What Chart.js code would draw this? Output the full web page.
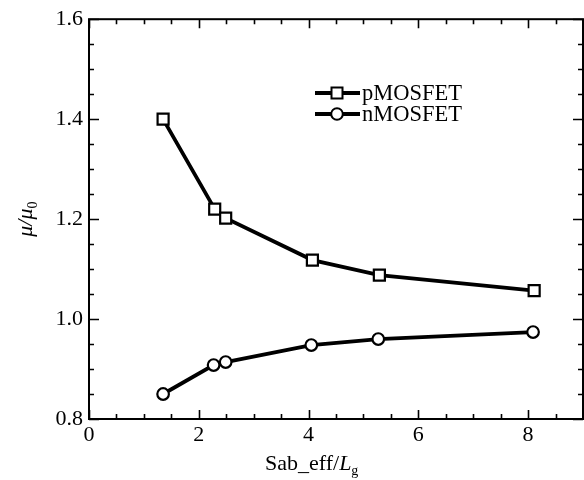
<!DOCTYPE html>
<html>
<head>
<meta charset="utf-8">
<script src="https://cdn.jsdelivr.net/npm/chart.js@4.4.1/dist/chart.umd.min.js"></script>
<style>
html,body{margin:0;padding:0;background:#fff;}
#wrap{width:584px;height:480px;position:relative;}
</style>
</head>
<body>
<div id="wrap"><canvas id="c" width="584" height="480"></canvas></div>
<script>
// ---- data ----
const seriesNames = ['pMOSFET', 'nMOSFET'];
const xP = [1.35, 2.29, 2.49, 4.07, 5.29, 8.11];
const pMOS = [1.400, 1.220, 1.202, 1.118, 1.088, 1.057];
const xN = [1.35, 2.27, 2.49, 4.05, 5.27, 8.09];
const nMOS = [0.850, 0.908, 0.914, 0.948, 0.960, 0.974];
const xTicks = [0, 2, 4, 6, 8];
const yTicks = [0.8, 1.0, 1.2, 1.4, 1.6];
const xMinorStep = 0.5;
const yMinorStep = 0.05;

const FONT = "'Liberation Serif','Times New Roman',serif";
const FS = 22;

function pts(xs, ys){ return xs.map((x,i)=>({x:x, y:ys[i]})); }

const framePlugin = {
  id: 'frame',
  beforeDatasetsDraw(chart){
    const {ctx, chartArea:a, scales:{x, y}} = chart;
    ctx.save();
    ctx.strokeStyle = '#000';
    ctx.lineWidth = 2;
    ctx.strokeRect(a.left, a.top, a.right - a.left, a.bottom - a.top);
    ctx.lineWidth = 1.6;
    ctx.beginPath();
    for (let v = x.min; v <= x.max + 1e-9; v += xMinorStep) {
      const major = xTicks.some(t => Math.abs(t - v) < 1e-6);
      const L = major ? 9 : 5;
      const px = Math.round(x.getPixelForValue(v)) + 0.5;
      ctx.moveTo(px, a.bottom); ctx.lineTo(px, a.bottom - L);
      ctx.moveTo(px, a.top); ctx.lineTo(px, a.top + L);
    }
    for (let v = y.min; v <= y.max + 1e-9; v += yMinorStep) {
      const major = yTicks.some(t => Math.abs(t - v) < 1e-6);
      const L = major ? 10 : 5;
      const py = Math.round(y.getPixelForValue(v)) + 0.5;
      ctx.moveTo(a.left, py); ctx.lineTo(a.left + L, py);
      ctx.moveTo(a.right, py); ctx.lineTo(a.right - L, py);
    }
    ctx.stroke();
    ctx.restore();
  },
  afterDraw(chart){
    const {ctx, chartArea:a} = chart;
    ctx.save();
    ctx.fillStyle = '#000';
    ctx.textBaseline = 'alphabetic';
    // x title: Sab_eff/L_g
    const bx = 265, by = 470;
    ctx.font = FS + 'px ' + FONT;
    ctx.textAlign = 'left';
    const t1 = 'Sab_eff/';
    ctx.fillText(t1, bx, by);
    let w = ctx.measureText(t1).width;
    ctx.font = 'italic ' + FS + 'px ' + FONT;
    ctx.fillText('L', bx + w, by);
    w += ctx.measureText('L').width;
    ctx.font = '14px ' + FONT;
    ctx.fillText('g', bx + w, by + 5);

    // y title: mu/mu_0 rotated
    ctx.save();
    ctx.translate(32, (a.top + a.bottom) / 2);
    ctx.rotate(-Math.PI / 2);
    ctx.font = 'italic ' + FS + 'px ' + FONT;
    const s1 = 'μ/μ';
    const w1 = ctx.measureText(s1).width;
    ctx.font = '14px ' + FONT;
    const w2 = ctx.measureText('0').width;
    const start = -(w1 + w2) / 2;
    ctx.font = 'italic ' + FS + 'px ' + FONT;
    ctx.fillText(s1, start, 0);
    ctx.font = '14px ' + FONT;
    ctx.fillText('0', start + w1, 5);
    ctx.restore();

    // legend
    const rows = [
      {name: seriesNames[0], y: 93, style: 'rect'},
      {name: seriesNames[1], y: 114, style: 'circle'}
    ];
    rows.forEach(r => {
      ctx.strokeStyle = '#000';
      ctx.lineWidth = 3.8;
      ctx.beginPath();
      ctx.moveTo(315, r.y); ctx.lineTo(360, r.y);
      ctx.stroke();
      ctx.lineWidth = 2;
      ctx.fillStyle = '#fff';
      ctx.beginPath();
      if (r.style === 'rect') ctx.rect(337 - 5.5, r.y - 5.5, 11, 11);
      else ctx.arc(337, r.y, 5.8, 0, Math.PI * 2);
      ctx.fill(); ctx.stroke();
      ctx.fillStyle = '#000';
      ctx.font = '22.5px ' + FONT;
      ctx.textBaseline = 'middle';
      ctx.textAlign = 'left';
      ctx.fillText(r.name, 362, r.y + 1);
    });
    ctx.restore();
  }
};

new Chart(document.getElementById('c'), {
  type: 'line',
  data: {
    datasets: [
      {
        label: seriesNames[0],
        data: pts(xP, pMOS),
        borderColor: '#000',
        borderWidth: 3.8,
        pointStyle: 'rect',
        pointRadius: 7.8,
        pointBorderWidth: 2.2,
        pointBackgroundColor: '#fff',
        pointBorderColor: '#000',
        tension: 0,
        fill: false
      },
      {
        label: seriesNames[1],
        data: pts(xN, nMOS),
        borderColor: '#000',
        borderWidth: 3.8,
        pointStyle: 'circle',
        pointRadius: 5.8,
        pointBorderWidth: 2.2,
        pointBackgroundColor: '#fff',
        pointBorderColor: '#000',
        tension: 0,
        fill: false
      }
    ]
  },
  options: {
    responsive: false,
    animation: false,
    events: [],
    layout: { autoPadding: false, padding: { top: 17, right: 1, left: 0, bottom: 0 } },
    plugins: { legend: { display: false }, tooltip: { enabled: false } },
    scales: {
      x: {
        type: 'linear',
        min: 0, max: 9,
        grid: { display: false, drawTicks: false },
        border: { display: false },
        afterBuildTicks: s => { s.ticks = xTicks.map(v => ({value: v})); },
        afterFit: s => { s.height = 61; s.paddingRight = 0; s.paddingLeft = 0; },
        ticks: {
          color: '#000',
          padding: 3,
          maxRotation: 0,
          autoSkip: false,
          font: { family: FONT, size: FS },
          callback: v => String(v)
        }
      },
      y: {
        type: 'linear',
        min: 0.8, max: 1.6,
        grid: { display: false, drawTicks: false },
        border: { display: false },
        afterBuildTicks: s => { s.ticks = yTicks.map(v => ({value: v})); },
        afterFit: s => { s.width = 89; },
        ticks: {
          color: '#000',
          padding: 6,
          autoSkip: false,
          font: { family: FONT, size: FS },
          callback: v => Number(v).toFixed(1)
        }
      }
    }
  },
  plugins: [framePlugin]
});
</script>
</body>
</html>
